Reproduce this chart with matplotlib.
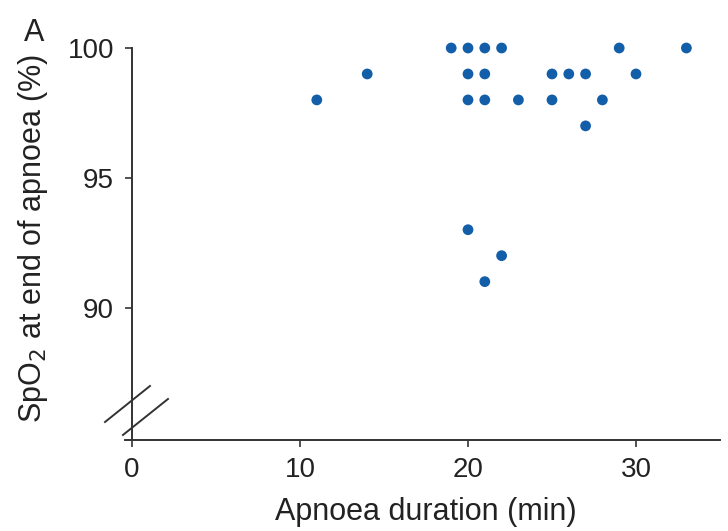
import matplotlib.pyplot as plt

plt.rcParams['font.family'] = ['Liberation Sans', 'DejaVu Sans']

# apnoea duration (min) and SpO2 at end of apnoea (%)
duration = [19, 20, 21, 22, 29, 33,
            14, 20, 21, 25, 26, 27, 30,
            11, 20, 21, 23, 25, 28,
            27,
            20, 22, 21]
spo2 = [100, 100, 100, 100, 100, 100,
        99, 99, 99, 99, 99, 99, 99,
        98, 98, 98, 98, 98, 98,
        97,
        93, 92, 91]

xticks = [0, 10, 20, 30]
yticks = [90, 95, 100]

fig = plt.figure(figsize=(7.28, 5.31), dpi=100)
ax = fig.add_axes([0.1721, 0.1714, 0.8169, 0.7382])

ax.scatter(duration, spo2, s=60, color='#135ea8', edgecolors='none',
           clip_on=False, zorder=3)

ax.set_xlim(-0.4, 35.0)
ax.set_ylim(84.9, 100.0)
ax.set_xticks(xticks)
ax.set_yticks(yticks)

for s in ['top', 'right']:
    ax.spines[s].set_visible(False)
ax.spines['left'].set_position(('data', 0))
for s in ['left', 'bottom']:
    ax.spines[s].set_color('#333333')
    ax.spines[s].set_linewidth(1.4)

ax.tick_params(axis='both', labelsize=20, colors='#333333', labelcolor='#222222',
               length=5, width=1.2)
ax.tick_params(axis='y', pad=8)
ax.tick_params(axis='x', pad=7)

ax.set_xlabel('Apnoea duration (min)', fontsize=22, color='#222222')
ax.set_ylabel('SpO$_2$ at end of apnoea (%)', fontsize=22, color='#222222')
ax.xaxis.set_label_coords(0.5056, -0.145)
ax.yaxis.set_label_coords(-0.127, 0.515)

# axis break marks
for (x0, y0, x1, y1) in [(-0.0341, 0.0459, 0.0415, 0.1378),
                         (-0.0039, 0.0128, 0.0718, 0.1046)]:
    ax.plot([x0, x1], [y0, y1], color='#333333', lw=1.4,
            transform=ax.transAxes, clip_on=False)

fig.text(0.047, 0.938, 'A', fontsize=22, color='#222222', ha='center', va='center')

fig.savefig('out.png', dpi=100)
